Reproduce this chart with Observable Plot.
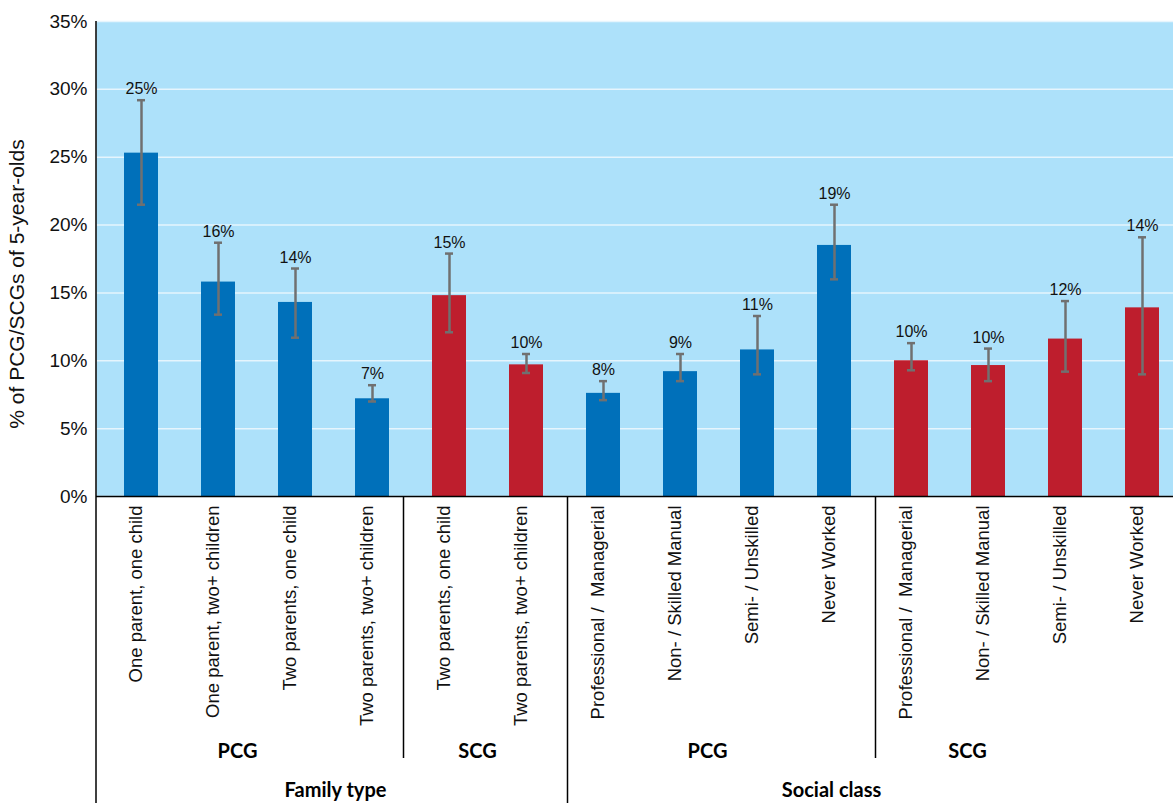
<!DOCTYPE html>
<html>
<head>
<meta charset="utf-8">
<script src="https://cdn.jsdelivr.net/npm/d3@7"></script>
<script src="https://cdn.jsdelivr.net/npm/@observablehq/plot@0.6"></script>
<style>
  html, body { margin: 0; padding: 0; background: #fff; overflow: hidden; }
  #chart svg { display: block; overflow: hidden; }
</style>
</head>
<body>
<div id="chart"></div>
<script>
// ---- Data ----
const categories = [
  "One parent, one child", "One parent, two+ children", "Two parents, one child", "Two parents, two+ children",
  "Two parents, one child", "Two parents, two+ children",
  "Professional /  Managerial", "Non- / Skilled Manual", "Semi- / Unskilled", "Never Worked",
  "Professional /  Managerial", "Non- / Skilled Manual", "Semi- / Unskilled", "Never Worked"
];
const caregiver = ["PCG","PCG","PCG","PCG","SCG","SCG","PCG","PCG","PCG","PCG","SCG","SCG","SCG","SCG"];
const values = [25.3, 15.8, 14.3, 7.2, 14.8, 9.7, 7.6, 9.2, 10.8, 18.5, 10.0, 9.65, 11.6, 13.9];
const lower  = [21.5, 13.4, 11.7, 7.0, 12.1, 9.1, 7.1, 8.5, 9.0, 16.0, 9.3, 8.5, 9.2, 9.0];
const upper  = [29.2, 18.7, 16.8, 8.2, 17.9, 10.5, 8.5, 10.5, 13.3, 21.5, 11.3, 10.9, 14.4, 19.1];
const valueLabels = ["25%","16%","14%","7%","15%","10%","8%","9%","11%","19%","10%","10%","12%","14%"];
const yTicks = [0, 5, 10, 15, 20, 25, 30, 35];

const groupNames = ["PCG", "SCG", "PCG", "SCG"];
const groupStart = [0, 4, 6, 10];
const groupEnd   = [3, 5, 9, 13];
const sectionNames = ["Family type", "Social class"];
const sectionStart = [0, 6];
const sectionEnd   = [5, 13];

// ---- Styling / layout ----
const BLUE = "#0070ba", RED = "#be1e2d", BG = "#ade1fa", ERR = "#707070";
const groupNudge = [-19, -10, -11, -59];
const sectionNudge = [2, -41];
const sepNudge = [-7, 3, 3];

const ids = categories.map((_, i) => "c" + i);
const data = categories.map((c, i) => ({
  id: ids[i], label: c, who: caregiver[i], value: values[i],
  lo: lower[i], hi: upper[i], text: valueLabels[i]
}));

function groupDecor(index, scales, channels, dims) {
  const x = scales.x;
  const step = x(ids[1]) - x(ids[0]);
  const bw = x.bandwidth();
  const gap = (step - bw) / 2;
  const y0 = dims.height - dims.marginBottom;
  const ns = "http://www.w3.org/2000/svg";
  const g = document.createElementNS(ns, "g");
  const line = (xx, y1, y2) => {
    const l = document.createElementNS(ns, "line");
    l.setAttribute("x1", xx); l.setAttribute("x2", xx);
    l.setAttribute("y1", y1); l.setAttribute("y2", y2);
    l.setAttribute("stroke", "#000"); l.setAttribute("stroke-width", 1.5);
    g.appendChild(l);
  };
  const text = (str, xx, yy, size) => {
    const t = document.createElementNS(ns, "text");
    t.setAttribute("x", xx); t.setAttribute("y", yy);
    t.setAttribute("text-anchor", "middle");
    t.setAttribute("font-family", "Lato, 'Open Sans', sans-serif");
    t.setAttribute("font-weight", "bold");
    t.setAttribute("font-size", size);
    t.setAttribute("fill", "#000");
    t.textContent = str;
    g.appendChild(t);
  };
  // left axis line extended to bottom
  line(dims.marginLeft, dims.marginTop, dims.height);
  // group separators
  const sectionEnds = new Set(sectionEnd);
  groupEnd.forEach((e, k) => {
    if (e === ids.length - 1) return;
    const xx = x(ids[e]) + bw + gap + sepNudge[k];
    line(xx, y0, sectionEnds.has(e) ? dims.height : y0 + 262);
  });
  groupNames.forEach((name, k) => {
    const cx = (x(ids[groupStart[k]]) + x(ids[groupEnd[k]]) + bw) / 2 + groupNudge[k];
    text(name, cx, y0 + 262, 20);
  });
  sectionNames.forEach((name, k) => {
    const cx = (x(ids[sectionStart[k]]) + x(ids[sectionEnd[k]]) + bw) / 2 + sectionNudge[k];
    text(name, cx, y0 + 301, 20);
  });
  return g;
}

const chart = Plot.plot({
  width: 1173,
  height: 803,
  marginTop: 21,
  marginBottom: 307,
  marginLeft: 96,
  marginRight: -14,
  style: { fontFamily: "'Liberation Sans', Arial, sans-serif", background: "#fff", overflow: "hidden" },
  x: { domain: ids, paddingInner: 0.56, paddingOuter: 0.296, axis: null },
  y: { domain: [0, 35], axis: null },
  marks: [
    Plot.frame({ fill: BG, stroke: null }),
    Plot.ruleY(yTicks, { stroke: "#e6f5fd", strokeWidth: 1.5 }),
    Plot.barY(data, { x: "id", y: "value", fill: d => d.who === "PCG" ? BLUE : RED }),
    Plot.ruleX(data, { x: "id", y1: "lo", y2: "hi", stroke: ERR, strokeWidth: 2.5 }),
    Plot.tickY(data, { x: "id", y: "lo", stroke: ERR, strokeWidth: 2.5, insetLeft: 13, insetRight: 13 }),
    Plot.tickY(data, { x: "id", y: "hi", stroke: ERR, strokeWidth: 2.5, insetLeft: 13, insetRight: 13 }),
    Plot.text(data, { x: "id", y: "hi", text: "text", dy: -6, lineAnchor: "bottom", fontSize: 16, fill: "#111" }),
    Plot.ruleY([0], { stroke: "#000", strokeWidth: 1.5 }),
    // y tick labels
    Plot.text(yTicks, { y: d => d, text: d => d + "%", frameAnchor: "left", textAnchor: "end", dx: -9, fontSize: 19, fill: "#111" }),
    // x category labels
    Plot.text(data, { x: "id", text: "label", frameAnchor: "bottom", rotate: -90, textAnchor: "end", dy: 9, fontSize: 18.5, fill: "#111", style: "white-space: pre" }),
    // y axis title
    Plot.text(["% of PCG/SCGs of 5-year-olds"], { frameAnchor: "left", textAnchor: "middle", dx: -79, dy: 25, rotate: -90, fontSize: 21, fill: "#111" }),
    groupDecor
  ]
});
document.getElementById("chart").appendChild(chart);
</script>
</body>
</html>
